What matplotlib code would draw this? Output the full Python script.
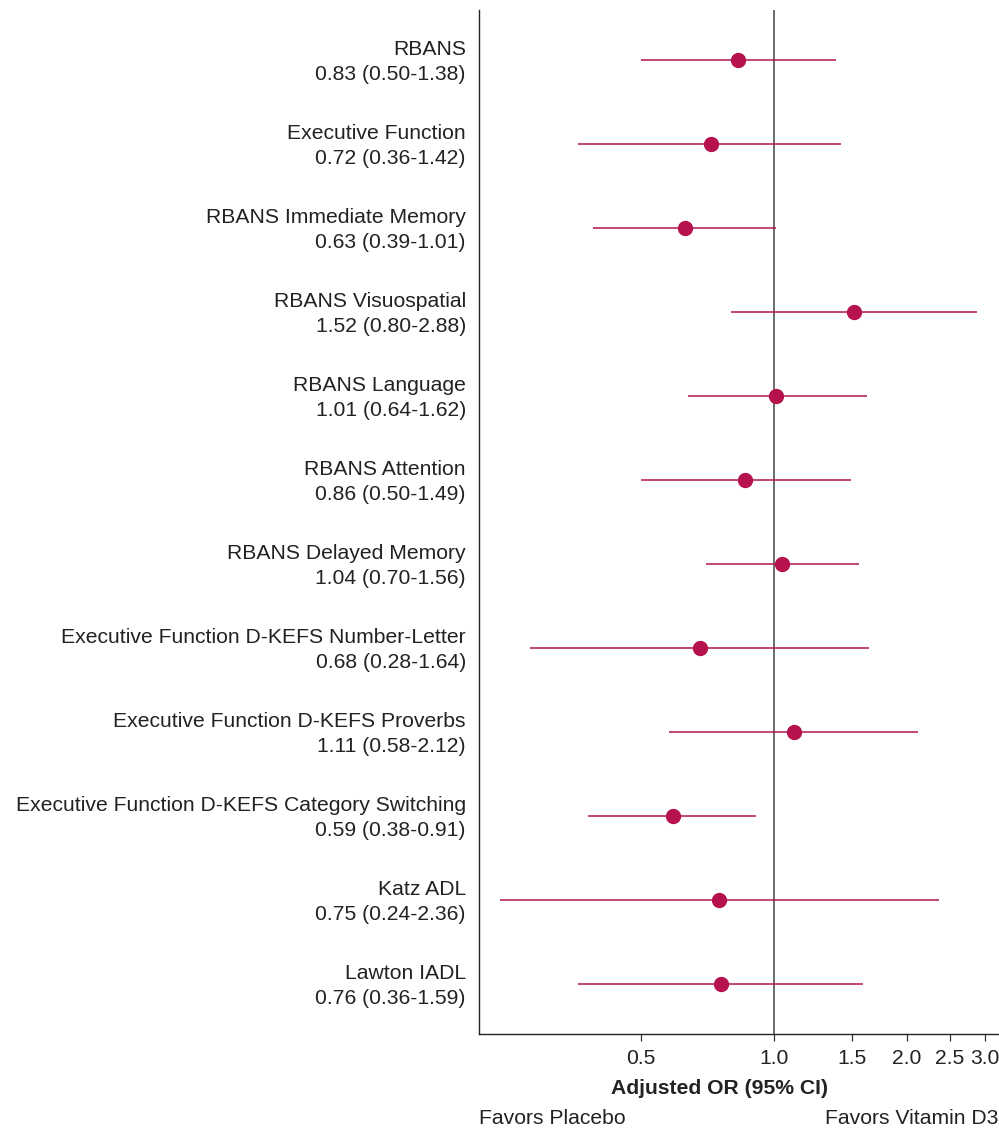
import matplotlib.pyplot as plt
import matplotlib.transforms as mtransforms
import numpy as np

plt.rcParams['font.family'] = ['Liberation Sans', 'DejaVu Sans']

outcomes = ['RBANS', 'Executive Function', 'RBANS Immediate Memory', 'RBANS Visuospatial',
            'RBANS Language', 'RBANS Attention', 'RBANS Delayed Memory',
            'Executive Function D-KEFS Number-Letter', 'Executive Function D-KEFS Proverbs',
            'Executive Function D-KEFS Category Switching', 'Katz ADL', 'Lawton IADL']
odds = [0.83, 0.72, 0.63, 1.52, 1.01, 0.86, 1.04, 0.68, 1.11, 0.59, 0.75, 0.76]
ci_low = [0.50, 0.36, 0.39, 0.80, 0.64, 0.50, 0.70, 0.28, 0.58, 0.38, 0.24, 0.36]
ci_high = [1.38, 1.42, 1.01, 2.88, 1.62, 1.49, 1.56, 1.64, 2.12, 0.91, 2.36, 1.59]
xticks = [0.5, 1.0, 1.5, 2.0, 2.5, 3.0]

col = '#B5124E'
fs = 15.2
n = len(outcomes)
ypos = np.arange(n)[::-1]

fig = plt.figure(figsize=(9.99, 11.29), dpi=100)
ax = fig.add_axes([0.4795, 0.0841, 0.5205, 0.9069])

ax.axvline(1.0, color='#444444', lw=1.1, zorder=1)
ax.hlines(ypos, ci_low, ci_high, color=col, lw=1.1, zorder=2)
ax.plot(odds, ypos, 'o', color=col, ms=10, zorder=3)

ax.set_xscale('log')
ax.set_xlim(0.215, 3.23)
ax.set_ylim(-0.595, n - 1 + 0.595)
ax.set_xticks(xticks)
ax.set_xticklabels(['%.1f' % t for t in xticks], fontsize=fs, color='#222222')
ax.minorticks_off()
ax.tick_params(axis='x', length=5, width=0.9, pad=6, color='#333333')

labels = ['%s\n%.2f (%.2f-%.2f)' % (o, v, lo, hi)
          for o, v, lo, hi in zip(outcomes, odds, ci_low, ci_high)]
ax.set_yticks(ypos)
ax.set_yticklabels(labels, fontsize=fs, color='#222222', linespacing=1.4,
                   multialignment='right')
ax.tick_params(axis='y', length=0, pad=9.5)
# nudge the two-line labels up a little
shift = mtransforms.ScaledTranslation(0, 3 / 100, fig.dpi_scale_trans)
for lab in ax.get_yticklabels():
    lab.set_transform(lab.get_transform() + shift)

ax.spines['top'].set_visible(False)
ax.spines['right'].set_visible(False)
ax.spines['left'].set_color('#222222')
ax.spines['bottom'].set_color('#222222')
ax.spines['left'].set_linewidth(1.0)
ax.spines['bottom'].set_linewidth(1.0)

fig.text(0.7207, 1 - 1089 / 1129, 'Adjusted OR (95% CI)', ha='center', va='center',
         fontsize=fs, fontweight='bold', color='#222222')
fig.text(0.4795, 1 - 1119 / 1129, 'Favors Placebo', ha='left', va='center',
         fontsize=fs, color='#222222')
fig.text(0.999, 1 - 1119 / 1129, 'Favors Vitamin D3', ha='right', va='center',
         fontsize=fs, color='#222222')

fig.savefig('out.png', dpi=100)
